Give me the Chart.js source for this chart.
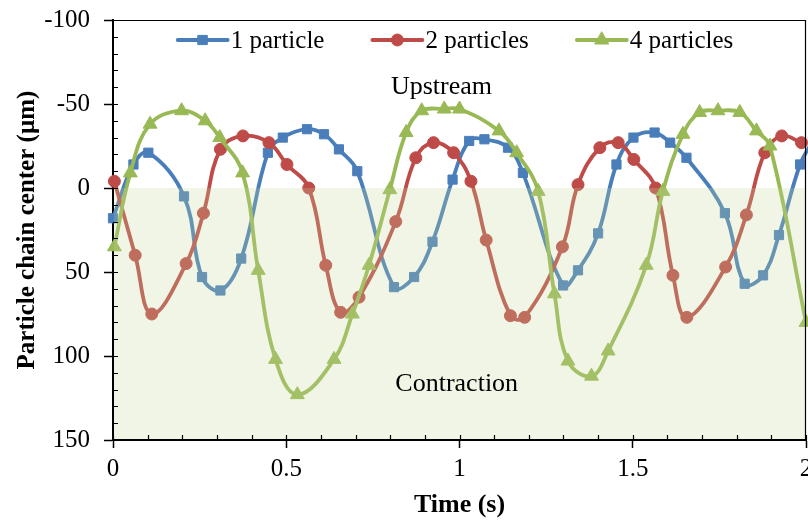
<!DOCTYPE html>
<html><head><meta charset="utf-8">
<script src="https://cdn.jsdelivr.net/npm/chart.js@4/dist/chart.umd.min.js"></script>
<style>html,body{margin:0;padding:0;background:#fff}#wrap{width:808px;height:521px}</style>
</head><body><div id="wrap"><canvas id="c" width="808" height="521"></canvas></div>
<script>
// ---- data ----
const seriesNames = ['1 particle', '2 particles', '4 particles'];

const time1 = [0, 0.059, 0.102, 0.205, 0.257, 0.31, 0.37, 0.447, 0.49, 0.56, 0.609, 0.652, 0.705, 0.811, 0.869, 0.922, 0.98, 1.028, 1.072, 1.14, 1.183, 1.299, 1.342, 1.4, 1.453, 1.502, 1.563, 1.608, 1.655, 1.766, 1.823, 1.876, 1.922, 1.983, 2.02];
const pos1  = [18, -14, -21, 5, 53, 61, 42, -21, -30, -35, -32, -23, -10, 59, 53, 32, -5, -28, -29, -24, -9, 58, 49, 27, -14, -30, -33, -27, -18, 15, 57, 52, 28, -14, -28];

const time2 = [0.004, 0.064, 0.112, 0.211, 0.261, 0.31, 0.375, 0.45, 0.502, 0.565, 0.614, 0.657, 0.71, 0.816, 0.874, 0.925, 0.983, 1.033, 1.077, 1.147, 1.188, 1.297, 1.342, 1.405, 1.458, 1.503, 1.566, 1.616, 1.656, 1.768, 1.828, 1.881, 1.93, 1.987];
const pos2  = [-4, 40, 75, 45, 15, -23, -31, -27, -14, 0, 46, 74, 65, 20, -18, -27, -21, -4, 31, 76, 77, 35, -2, -24, -27, -17, 0, 52, 77, 47, 16, -21, -31, -27];

const time3 = [0.004, 0.05, 0.107, 0.198, 0.266, 0.308, 0.374, 0.419, 0.469, 0.532, 0.638, 0.691, 0.739, 0.799, 0.846, 0.891, 0.956, 1.0, 1.114, 1.165, 1.227, 1.274, 1.313, 1.381, 1.429, 1.539, 1.587, 1.645, 1.693, 1.746, 1.809, 1.857, 1.896, 2.0];
const pos3  = [35, -9, -38, -46, -40, -30, -9, 49, 102, 123, 102, 75, 46, 1, -33, -46, -47, -47, -34, -21, 2, 63, 103, 112, 97, 46, 2, -32, -45, -46, -45, -34, -25, 80];

const xTickLabels = ['0', '0.5', '1', '1.5', '2'];
const yTickLabels = ['-100', '-50', '0', '50', '100', '150'];
const regionNotes = ['Upstream', 'Contraction'];
const contractionZone = [0, 150];

// ---- styles ----
const colors = ['#4A7EBB', '#BE4B48', '#98B954'];
const markers = ['rect', 'circle', 'triangle'];
const markerSizes = [6.5, 6, 8];
const FONT = '"Liberation Serif", "Times New Roman", serif';

function pts(ts, vs) { return ts.map((t, i) => ({ x: t, y: vs[i] })); }
const seriesData = [pts(time1, pos1), pts(time2, pos2), pts(time3, pos3)];

const datasets = seriesNames.map((name, i) => ({
  label: name,
  data: seriesData[i],
  borderColor: colors[i],
  backgroundColor: colors[i],
  borderWidth: 3.8,
  pointStyle: markers[i],
  pointRadius: markerSizes[i],
  pointBorderWidth: 1,
  pointBorderColor: colors[i],
  pointBackgroundColor: colors[i],
  tension: 0.4,
  order: 3 - i,
  clip: 8
}));

function drawMarker(ctx, style, r, x, y) {
  if (Chart.helpers && Chart.helpers.drawPoint) {
    Chart.helpers.drawPoint(ctx, { pointStyle: style, radius: r, rotation: 0, borderWidth: 1 }, x, y);
    return;
  }
  ctx.beginPath();
  if (style === 'circle') ctx.arc(x, y, r, 0, Math.PI * 2);
  else if (style === 'rect') { const s = r * Math.SQRT1_2; ctx.rect(x - s, y - s, 2 * s, 2 * s); }
  else { ctx.moveTo(x, y - r); ctx.lineTo(x + r * 0.866, y + r / 2); ctx.lineTo(x - r * 0.866, y + r / 2); ctx.closePath(); }
  ctx.fill(); ctx.stroke();
}

const decor = {
  id: 'decor',
  afterDatasetsDraw(chart) {
    const { ctx, chartArea: a, scales: { x, y } } = chart;
    ctx.save();
    // translucent contraction zone (drawn over the series, like the reference)
    const y0 = y.getPixelForValue(contractionZone[0]);
    const y1 = y.getPixelForValue(contractionZone[1]);
    ctx.fillStyle = 'rgba(196,216,156,0.25)';
    ctx.fillRect(a.left + 1, Math.min(y0, y1), a.right - a.left - 1, Math.abs(y1 - y0) - 1);

    // top & right frame
    ctx.strokeStyle = '#000'; ctx.lineWidth = 1.2;
    ctx.beginPath();
    ctx.moveTo(a.left, a.top + 0.5); ctx.lineTo(a.right - 0.5, a.top + 0.5); ctx.lineTo(a.right - 0.5, a.bottom);
    ctx.stroke();

    // inner ticks
    ctx.lineWidth = 1.2;
    ctx.beginPath();
    y.ticks.forEach(t => { const py = Math.round(y.getPixelForValue(t.value)) + 0.5; ctx.moveTo(a.left, py); ctx.lineTo(a.left + 5, py); });
    x.ticks.forEach(t => { const px = Math.round(x.getPixelForValue(t.value)) + 0.5; ctx.moveTo(px, a.bottom); ctx.lineTo(px, a.bottom - 5); });
    ctx.stroke();

    // region notes
    ctx.fillStyle = '#000';
    ctx.font = '26px ' + FONT;
    ctx.textAlign = 'center'; ctx.textBaseline = 'middle';
    ctx.fillText(regionNotes[0], x.getPixelForValue(0.948), y.getPixelForValue(-60));
    ctx.fillText(regionNotes[1], x.getPixelForValue(0.992), y.getPixelForValue(117));

    // legend (line + marker + text)
    ctx.font = '25px ' + FONT;
    const ds = chart.data.datasets;
    const lineLen = 50, gap = 3, spacing = 48;
    const widths = ds.map(d => ctx.measureText(d.label).width);
    const total = widths.reduce((s, w) => s + lineLen + gap + w, 0) + spacing * (ds.length - 1);
    let lx = (a.left + a.right) / 2 - 4 - total / 2;
    const ly = a.top + 20;
    ds.forEach((d, i) => {
      ctx.strokeStyle = d.borderColor; ctx.lineWidth = d.borderWidth; ctx.lineCap = 'round';
      ctx.beginPath(); ctx.moveTo(lx, ly); ctx.lineTo(lx + lineLen, ly); ctx.stroke();
      ctx.fillStyle = d.backgroundColor; ctx.strokeStyle = d.borderColor; ctx.lineWidth = 1;
      drawMarker(ctx, d.pointStyle, d.pointRadius, lx + lineLen / 2, ly);
      ctx.fillStyle = '#000'; ctx.textAlign = 'left'; ctx.textBaseline = 'middle';
      ctx.fillText(d.label, lx + lineLen + gap, ly + 1);
      lx += lineLen + gap + widths[i] + spacing;
    });
    ctx.restore();
  }
};

new Chart(document.getElementById('c'), {
  type: 'line',
  data: { datasets },
  options: {
    responsive: false,
    animation: false,
    devicePixelRatio: 1,
    layout: { autoPadding: false, padding: { top: 20, right: 2, left: 0, bottom: 0 } },
    plugins: { legend: { display: false }, tooltip: { enabled: false } },
    scales: {
      x: {
        type: 'linear', min: 0, max: 2,
        afterFit(s) { s.height = 81; s.paddingLeft = 0; s.paddingRight = 0; },
        ticks: {
          stepSize: 0.1, autoSkip: false, maxRotation: 0, padding: 6, color: '#000',
          font: { family: FONT, size: 25 },
          callback(v) { const k = v * 2; return Math.abs(k - Math.round(k)) < 1e-6 ? xTickLabels[Math.round(k)] : ''; }
        },
        grid: {
          drawOnChartArea: false, drawTicks: true, tickLength: 8, tickWidth: 1.5,
          tickColor(c) { const v = c.tick ? c.tick.value * 2 : 0.3; return Math.abs(v - Math.round(v)) < 1e-6 ? '#000' : 'rgba(0,0,0,0)'; }
        },
        border: { display: true, color: '#000', width: 2 },
        title: { display: true, text: 'Time (s)', color: '#000', font: { family: FONT, size: 26, weight: 'bold' }, padding: { top: 0, bottom: 0 } }
      },
      y: {
        type: 'linear', min: -100, max: 150, reverse: true,
        afterFit(s) { s.width = 113; s.paddingTop = 0; s.paddingBottom = 0; },
        ticks: {
          stepSize: 10, autoSkip: false, padding: 14, color: '#000',
          font: { family: FONT, size: 25 },
          callback(v) { return v % 50 === 0 ? yTickLabels[(v + 100) / 50] : ''; }
        },
        grid: {
          drawOnChartArea: false, drawTicks: true, tickLength: 9, tickWidth: 1.5,
          tickColor(c) { return c.tick && c.tick.value % 50 === 0 ? '#000' : 'rgba(0,0,0,0)'; }
        },
        border: { display: true, color: '#000', width: 2 },
        title: { display: true, text: 'Particle chain center (µm)', color: '#000', font: { family: FONT, size: 25, weight: 'bold' }, padding: { top: 13, bottom: 0 } }
      }
    }
  },
  plugins: [decor]
});
</script>
</body></html>
